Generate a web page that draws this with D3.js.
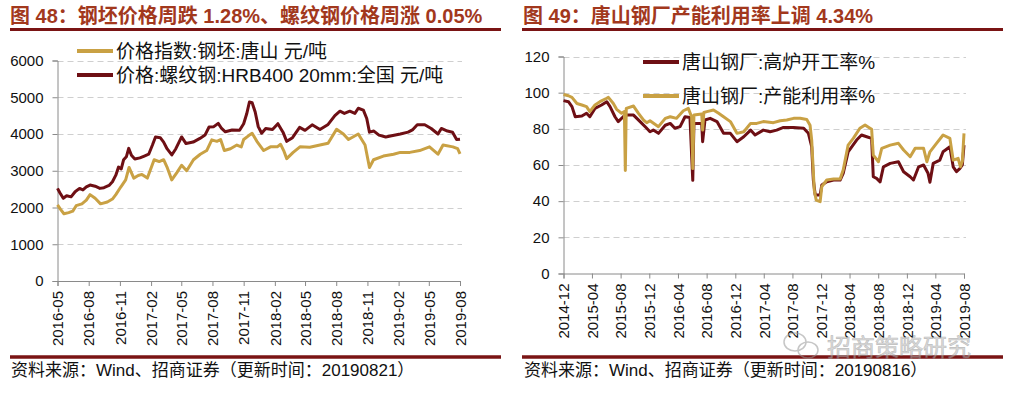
<!DOCTYPE html>
<html>
<head>
<meta charset="utf-8">
<script src="https://cdn.jsdelivr.net/npm/d3@7"></script>
<style>
  html, body { margin: 0; padding: 0; background: #fff; }
  svg { display: block; font-family: "Liberation Sans", Arial, "Noto Sans CJK SC", sans-serif; }
  .grid line { stroke: #cfcfcf; stroke-dasharray: 6 4; }
  .axis path, .axis line { stroke: #8a8a8a; }
  .axis text { font-size: 15px; fill: #111; }
</style>
</head>
<body>
<div id="chart"></div>
<script>
// ---- left panel: prices (元/吨)
const leftTicks = ['2016-05','2016-08','2016-11','2017-02','2017-05','2017-08','2017-11','2018-02','2018-05','2018-08','2018-11','2019-02','2019-05','2019-08'];
const leftYTicks = [0, 1000, 2000, 3000, 4000, 5000, 6000];
const rebarDates = ['2016-05-01','2016-05-08','2016-05-18','2016-05-28','2016-06-10','2016-06-22','2016-07-05','2016-07-15','2016-07-25','2016-08-05','2016-08-20','2016-09-03','2016-09-15','2016-09-30','2016-10-10','2016-10-20','2016-10-28','2016-11-05','2016-11-12','2016-11-20','2016-11-27','2016-12-05','2016-12-15','2016-12-30','2017-01-12','2017-01-25','2017-02-05','2017-02-14','2017-02-28','2017-03-10','2017-03-20','2017-04-03','2017-04-15','2017-05-02','2017-05-15','2017-06-05','2017-06-25','2017-07-10','2017-07-22','2017-08-05','2017-08-18','2017-08-28','2017-09-08','2017-09-28','2017-10-20','2017-11-01','2017-11-10','2017-11-18','2017-11-26','2017-12-05','2017-12-14','2017-12-24','2018-01-05','2018-01-25','2018-02-10','2018-02-25','2018-03-08','2018-03-25','2018-04-15','2018-05-01','2018-05-22','2018-06-14','2018-07-08','2018-07-28','2018-08-12','2018-08-25','2018-09-10','2018-09-25','2018-10-05','2018-10-20','2018-10-30','2018-11-07','2018-11-20','2018-12-05','2018-12-25','2019-01-15','2019-02-06','2019-03-01','2019-03-15','2019-03-28','2019-04-19','2019-05-08','2019-05-28','2019-06-07','2019-06-25','2019-07-10','2019-07-22','2019-08-01'];
const rebarValues = [2520,2400,2250,2320,2290,2430,2520,2480,2560,2610,2580,2520,2540,2600,2700,2880,3100,3050,3300,3380,3610,3420,3320,3350,3400,3450,3700,3920,3900,3780,3600,3430,3600,3920,3740,3780,3880,3970,4190,4200,4290,4150,4060,4110,4100,4280,4550,4870,4850,4600,4200,4020,4150,4120,4280,4050,3800,3900,4180,4100,4250,4120,4260,4500,4620,4560,4620,4560,4700,4650,4420,4050,4080,3970,3920,3960,4000,4050,4120,4250,4250,4150,4000,4150,4080,4050,3850,3860];
const billetDates = ['2016-05-01','2016-05-10','2016-05-20','2016-06-03','2016-06-15','2016-06-25','2016-07-12','2016-07-25','2016-08-05','2016-08-20','2016-09-05','2016-09-25','2016-10-10','2016-10-20','2016-11-03','2016-11-18','2016-11-28','2016-12-12','2016-12-25','2017-01-05','2017-01-21','2017-02-10','2017-02-25','2017-03-10','2017-03-20','2017-04-03','2017-04-18','2017-05-02','2017-05-17','2017-06-06','2017-06-26','2017-07-15','2017-07-30','2017-08-14','2017-08-25','2017-09-05','2017-09-23','2017-10-12','2017-10-25','2017-11-01','2017-11-15','2017-11-26','2017-12-10','2017-12-30','2018-01-19','2018-02-08','2018-02-18','2018-02-27','2018-03-08','2018-03-27','2018-04-16','2018-05-15','2018-06-14','2018-07-08','2018-08-02','2018-08-22','2018-09-06','2018-10-05','2018-10-25','2018-11-07','2018-11-19','2018-12-18','2019-01-17','2019-02-06','2019-03-06','2019-04-04','2019-05-03','2019-05-28','2019-06-12','2019-07-11','2019-07-25','2019-08-01'];
const billetValues = [2070,1950,1830,1860,1900,2050,2100,2200,2350,2250,2100,2150,2230,2350,2550,2750,3090,2800,2870,2900,2800,3300,3250,3300,3100,2750,2950,3150,3000,3300,3450,3550,3840,3800,3850,3550,3600,3700,3650,3850,3950,4020,3800,3550,3650,3650,3720,3550,3330,3500,3650,3640,3700,3750,4130,4000,3850,4000,3700,3090,3300,3400,3450,3500,3500,3550,3650,3450,3700,3650,3600,3460];

// ---- right panel: rates (%)
const rightTicks = ['2014-12','2015-04','2015-08','2015-12','2016-04','2016-08','2016-12','2017-04','2017-08','2017-12','2018-04','2018-08','2018-12','2019-04','2019-08'];
const rightYTicks = [0, 20, 40, 60, 80, 100, 120];
const furnaceDates = ['2014-12-01','2014-12-22','2015-01-06','2015-01-20','2015-02-17','2015-03-09','2015-03-23','2015-04-14','2015-05-12','2015-06-03','2015-06-17','2015-07-08','2015-07-22','2015-08-12','2015-08-27','2015-09-25','2015-10-23','2015-11-20','2015-12-04','2015-12-18','2016-01-09','2016-02-07','2016-02-28','2016-03-19','2016-04-10','2016-05-01','2016-05-22','2016-06-03','2016-06-08','2016-07-11','2016-07-15','2016-07-25','2016-08-16','2016-09-14','2016-10-12','2016-11-10','2016-12-08','2017-01-06','2017-02-04','2017-02-23','2017-03-30','2017-04-28','2017-05-26','2017-06-24','2017-08-06','2017-09-18','2017-10-08','2017-10-22','2017-10-29','2017-11-06','2017-11-27','2017-12-04','2017-12-25','2018-01-23','2018-02-20','2018-03-05','2018-03-26','2018-05-01','2018-05-22','2018-06-13','2018-07-04','2018-07-11','2018-07-25','2018-08-09','2018-08-23','2018-09-21','2018-10-26','2018-11-17','2018-12-15','2018-12-29','2019-01-20','2019-02-10','2019-03-01','2019-03-09','2019-03-23','2019-04-20','2019-05-04','2019-06-02','2019-06-16','2019-06-30','2019-07-14','2019-07-25','2019-08-01'];
const furnaceValues = [95.6,95,92.3,86.7,87.1,88.6,86.7,91.3,93.2,95,92.3,86.7,84,86.7,87.6,87.6,84,80.3,78.4,79.3,77.5,82,83,80.3,81.2,86.7,86.3,51.5,83,83,72.9,84.9,85.8,84,77.5,77.5,72.9,75.6,79.3,76.6,79.3,78.4,79.3,80.8,80.8,80.3,77.5,70.1,51.7,43.4,43.4,48.9,50.7,51.7,51.7,55.4,67.3,73.8,76.6,75.6,74.7,53.5,52.6,50.7,59,60.9,61.8,56.3,53.5,51.7,59,60,55.4,50.5,60.9,62.7,67.3,70.1,59,56.3,58,60,71];
const capacityDates = ['2014-12-01','2014-12-22','2015-01-06','2015-01-27','2015-02-17','2015-03-09','2015-03-23','2015-04-14','2015-05-05','2015-06-03','2015-06-10','2015-07-01','2015-07-15','2015-08-05','2015-08-17','2015-08-21','2015-08-25','2015-09-25','2015-10-16','2015-11-06','2015-11-20','2015-12-04','2016-01-09','2016-02-07','2016-02-28','2016-03-26','2016-04-24','2016-05-15','2016-05-29','2016-06-03','2016-06-08','2016-07-11','2016-07-15','2016-07-20','2016-08-02','2016-08-30','2016-09-21','2016-10-12','2016-11-10','2016-12-08','2017-01-06','2017-02-04','2017-03-02','2017-03-30','2017-05-12','2017-06-10','2017-07-08','2017-08-06','2017-09-03','2017-10-01','2017-10-15','2017-10-22','2017-11-02','2017-11-10','2017-11-27','2017-12-04','2017-12-25','2018-01-23','2018-02-20','2018-03-05','2018-03-26','2018-04-17','2018-05-15','2018-06-06','2018-06-27','2018-07-04','2018-07-11','2018-08-02','2018-08-16','2018-09-21','2018-10-26','2018-11-17','2018-12-15','2019-01-05','2019-02-10','2019-02-24','2019-03-09','2019-04-06','2019-05-04','2019-06-02','2019-06-16','2019-07-07','2019-07-17','2019-07-25','2019-08-01'];
const capacityValues = [99,98.3,97.4,94,93.2,92.3,89.5,93.2,95,96.9,97.4,94,90.8,88.6,89.5,57,91.3,92.6,88.6,84.9,83.4,84.5,81.2,85.8,86.7,85.8,90,91.3,86.7,58,87.6,88.2,79.3,89,89.5,90.4,88.6,86.7,84,77.5,78.4,83,83,84,83.4,84.5,84.9,85.8,85.8,85.2,82,73.8,46,40.6,39.7,48,51.7,52.2,52.2,57.2,71,74.7,80.3,82.1,80.3,79.7,65.5,61.8,69.2,71,72,68.3,64.6,69.2,69.2,61.8,67.3,72,76.6,74.7,62.7,63.7,59,62,77.5];

const DARK = '#6e0f14';
const GOLD = '#c9a144';
const RULE = '#7a1414';
const TITLE = '#a2381d';

const parseDay = d3.timeParse('%Y-%m-%d');
const parseMonth = d3.timeParse('%Y-%m');

const svg = d3.select('#chart').append('svg').attr('width', 1009).attr('height', 396);

function zip(dates, values) {
  return dates.map((d, i) => ({ date: parseDay(d), value: values[i] }));
}

function panel(opt) {
  const x = d3.scaleTime()
    .domain([parseMonth(opt.ticks[0]), parseMonth(opt.ticks[opt.ticks.length - 1])])
    .range([opt.x0, opt.x1]);
  const y = d3.scaleLinear().domain([0, d3.max(opt.yTicks)]).range([opt.y0, opt.y1]);

  // title + rules
  svg.append('text').attr('x', opt.titleX).attr('y', 23)
    .attr('font-size', 20).attr('font-weight', 'bold').attr('fill', TITLE).text(opt.title);
  svg.append('line').attr('x1', opt.ruleX0).attr('x2', opt.ruleX1).attr('y1', 29.5).attr('y2', 29.5)
    .attr('stroke', RULE).attr('stroke-width', 3);
  svg.append('line').attr('x1', opt.ruleX0).attr('x2', opt.ruleX1).attr('y1', 357).attr('y2', 357)
    .attr('stroke', RULE).attr('stroke-width', 3.5);
  svg.append('text').attr('x', opt.titleX + 1).attr('y', 376)
    .attr('font-size', 17).attr('fill', '#111').text(opt.source);

  // grid
  svg.append('g').attr('class', 'grid')
    .selectAll('line').data(opt.yTicks.filter(v => v > 0)).join('line')
    .attr('x1', opt.x0).attr('x2', opt.x1 + 2)
    .attr('y1', d => Math.round(y(d)) + 0.5).attr('y2', d => Math.round(y(d)) + 0.5);

  // axes
  svg.append('g').attr('class', 'axis')
    .attr('transform', `translate(${opt.x0},0)`)
    .call(d3.axisLeft(y).tickValues(opt.yTicks).tickSize(5).tickPadding(9).tickFormat(d3.format('d')));
  const xa = svg.append('g').attr('class', 'axis')
    .attr('transform', `translate(0,${opt.y0})`)
    .call(d3.axisBottom(x).tickValues(opt.ticks.map(parseMonth)).tickSize(5).tickFormat(d3.timeFormat('%Y-%m')));
  xa.selectAll('text')
    .attr('transform', 'rotate(-90)')
    .attr('text-anchor', 'end')
    .attr('x', -10).attr('y', 0).attr('dy', '0.35em');

  // lines
  const line = d3.line().x(d => x(d.date)).y(d => y(d.value));
  opt.series.forEach(s => {
    svg.append('path').datum(s.data)
      .attr('fill', 'none').attr('stroke', s.color).attr('stroke-width', 3)
      .attr('stroke-linejoin', 'round').attr('d', line);
  });

  // legend
  opt.legend.forEach(l => {
    svg.append('line').attr('x1', l.x).attr('x2', l.x + 36).attr('y1', l.y).attr('y2', l.y)
      .attr('stroke', l.color).attr('stroke-width', 4);
    svg.append('text').attr('x', l.x + 39).attr('y', l.y).attr('dy', '0.36em')
      .attr('font-size', 19).attr('fill', '#111').text(l.label);
  });
}

panel({
  title: '图 48：钢坯价格周跌 1.28%、螺纹钢价格周涨 0.05%',
  source: '资料来源：Wind、招商证券（更新时间：20190821）',
  titleX: 10, ruleX0: 10, ruleX1: 501,
  ticks: leftTicks, yTicks: leftYTicks,
  x0: 57.5, x1: 460, y0: 281, y1: 60.5,
  series: [
    { color: GOLD, data: zip(billetDates, billetValues) },
    { color: DARK, data: zip(rebarDates, rebarValues) }
  ],
  legend: [
    { x: 77, y: 51, color: GOLD, label: '价格指数:钢坯:唐山 元/吨' },
    { x: 77, y: 75, color: DARK, label: '价格:螺纹钢:HRB400 20mm:全国 元/吨' }
  ]
});

panel({
  title: '图 49：唐山钢厂产能利用率上调 4.34%',
  source: '资料来源：Wind、招商证券（更新时间：20190816）',
  titleX: 523, ruleX0: 522, ruleX1: 1003,
  ticks: rightTicks, yTicks: rightYTicks,
  x0: 563.5, x1: 964, y0: 273.5, y1: 56.5,
  series: [
    { color: DARK, data: zip(furnaceDates, furnaceValues) },
    { color: GOLD, data: zip(capacityDates, capacityValues) }
  ],
  legend: [
    { x: 643, y: 62, color: DARK, label: '唐山钢厂:高炉开工率%' },
    { x: 643, y: 96, color: GOLD, label: '唐山钢厂:产能利用率%' }
  ]
});

// watermark
const wm = svg.append('g').attr('opacity', 0.55);
wm.append('ellipse').attr('cx', 795).attr('cy', 342).attr('rx', 11).attr('ry', 9)
  .attr('fill', 'none').attr('stroke', '#999').attr('stroke-width', 1.5);
wm.append('ellipse').attr('cx', 808).attr('cy', 350).attr('rx', 10).attr('ry', 8)
  .attr('fill', 'none').attr('stroke', '#999').attr('stroke-width', 1.5);
wm.append('text').attr('x', 827).attr('y', 356).attr('font-size', 24)
  .attr('fill', '#bbb').attr('stroke', '#888').attr('stroke-width', 0.6).text('招商策略研究');
</script>
</body>
</html>
